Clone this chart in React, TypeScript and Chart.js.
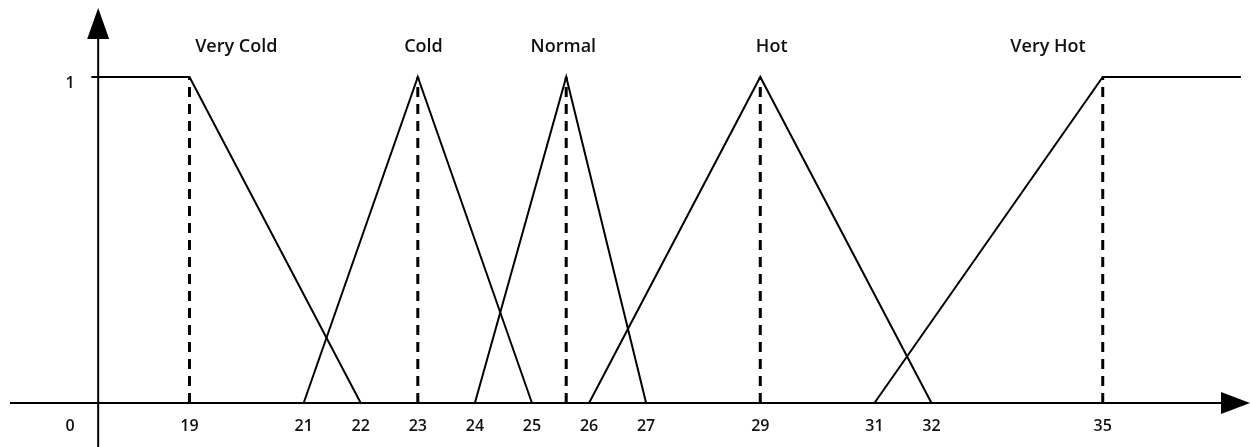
import React, { useEffect, useRef } from "react";
import { Chart, registerables } from "chart.js";

Chart.register(...registerables);

// Membership functions (x = temperature, y = membership degree)
const veryColdX = [17.28, 19, 22];
const veryColdY = [1, 1, 0];
const coldX = [21, 23, 25];
const coldY = [0, 1, 0];
const normalX = [24, 25.6, 27];
const normalY = [0, 1, 0];
const hotX = [26, 29, 32];
const hotY = [0, 1, 0];
const veryHotX = [31, 35, 37.42];
const veryHotY = [0, 1, 1];

// Dashed guide lines at the peaks
const peakX = [19, 23, 25.6, 29, 35];

// Axis tick labels
const xTickValues = [19, 21, 22, 23, 24, 25, 26, 27, 29, 31, 32, 35];
const yTickValues = [1];

// Set names and where they are written
const setNames = ["Very Cold", "Cold", "Normal", "Hot", "Very Hot"];
const setNameX = [19.82, 23.1, 25.55, 29.2, 34.04];
const setNameY = 1.092;

const X_MIN = 15.68;
const X_MAX = 37.58;
const Y_MIN = -0.135;
const Y_MAX = 1.236;
const AXIS_X = 17.4; // where the vertical axis crosses

const toPts = (xs: number[], ys: number[]) => xs.map((x, i) => ({ x, y: ys[i] }));

const axesPlugin = {
  id: "arrowAxes",
  afterDatasetsDraw(chart: any) {
    const { ctx, scales, chartArea } = chart;
    const xs = scales.x;
    const ys = scales.y;
    const y0 = ys.getPixelForValue(0);
    const xAxisPx = xs.getPixelForValue(AXIS_X);
    ctx.save();
    ctx.strokeStyle = "#000";
    ctx.fillStyle = "#000";
    ctx.lineWidth = 2;
    // horizontal axis
    ctx.beginPath();
    ctx.moveTo(10, y0);
    ctx.lineTo(chartArea.right - 28, y0);
    ctx.stroke();
    ctx.beginPath();
    ctx.moveTo(chartArea.right - 29, y0 - 11);
    ctx.lineTo(chartArea.right, y0);
    ctx.lineTo(chartArea.right - 29, y0 + 11);
    ctx.closePath();
    ctx.fill();
    // vertical axis
    ctx.beginPath();
    ctx.moveTo(xAxisPx, chartArea.bottom);
    ctx.lineTo(xAxisPx, 38);
    ctx.stroke();
    ctx.beginPath();
    ctx.moveTo(xAxisPx - 11, 39);
    ctx.lineTo(xAxisPx, 8);
    ctx.lineTo(xAxisPx + 11, 39);
    ctx.closePath();
    ctx.fill();

    // tick labels
    ctx.fillStyle = "#111";
    ctx.font = "600 16px 'Open Sans'";
    ctx.textAlign = "center";
    ctx.textBaseline = "middle";
    xTickValues.forEach((v) => {
      ctx.fillText(String(v), xs.getPixelForValue(v), y0 + 23);
    });
    ctx.fillText("0", 70, y0 + 23);
    yTickValues.forEach((v) => {
      ctx.fillText(String(v), 70, ys.getPixelForValue(v) + 6);
    });

    // set names
    ctx.font = "600 18px 'Open Sans'";
    setNames.forEach((name, i) => {
      ctx.fillText(name, xs.getPixelForValue(setNameX[i]), ys.getPixelForValue(setNameY));
    });
    ctx.restore();
  },
};

export default function App() {
  const ref = useRef<HTMLCanvasElement | null>(null);
  useEffect(() => {
    if (!ref.current) return;
    const solid = (xs: number[], ys: number[], label: string) => ({
      label,
      data: toPts(xs, ys),
      borderColor: "#000",
      borderWidth: 2,
      pointRadius: 0,
      fill: false,
      tension: 0,
    });
    const dashed = peakX.map((x, i) => ({
      label: "peak" + i,
      data: toPts([x, x], [0, 1]),
      borderColor: "#000",
      borderWidth: 3,
      borderDash: [10, 7],
      pointRadius: 0,
      fill: false,
    }));
    const chart = new Chart(ref.current, {
      type: "line",
      data: {
        datasets: [
          ...dashed,
          solid(veryColdX, veryColdY, setNames[0]),
          solid(coldX, coldY, setNames[1]),
          solid(normalX, normalY, setNames[2]),
          solid(hotX, hotY, setNames[3]),
          solid(veryHotX, veryHotY, setNames[4]),
        ],
      },
      options: {
        responsive: false,
        animation: false,
        layout: { padding: 0 },
        plugins: { legend: { display: false }, tooltip: { enabled: false } },
        scales: {
          x: { type: "linear", min: X_MIN, max: X_MAX, display: false },
          y: { type: "linear", min: Y_MIN, max: Y_MAX, display: false },
        },
      },
      plugins: [axesPlugin],
    });
    return () => chart.destroy();
  }, []);
  return (
    <div style={{ position: "fixed", left: 0, top: 0, width: 1250, height: 447, background: "#fff" }}>
      <canvas ref={ref} width={1250} height={447} style={{ display: "block" }} />
    </div>
  );
}
